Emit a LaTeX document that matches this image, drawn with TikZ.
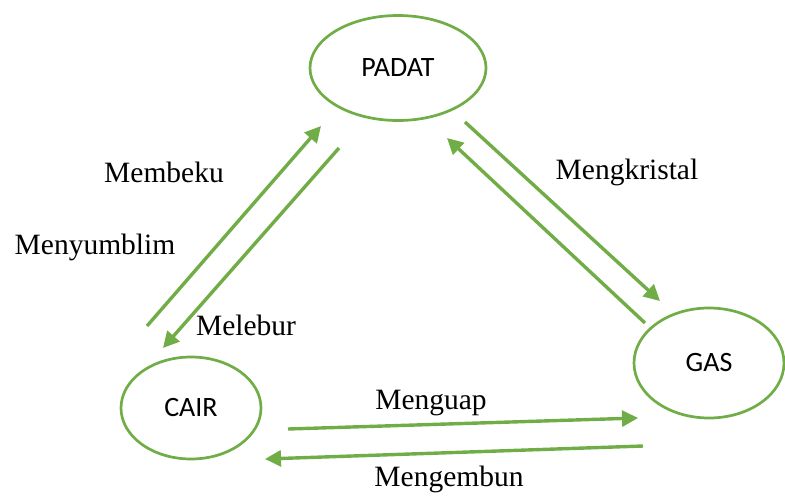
\documentclass[tikz,border=0pt]{standalone}
\usepackage{fontspec}
\setmainfont{Liberation Serif}
\newfontfamily\statefont{Carlito}
\usetikzlibrary{shapes.geometric,arrows.meta}
\definecolor{leaf}{HTML}{70AD47}
\tikzset{
  state/.style={ellipse, draw=leaf, line width=2.7pt, inner sep=0pt, font=\statefont\fontsize{28}{32}\selectfont},
  flow/.style={draw=leaf, line width=3.4pt, -{Triangle[length=16pt,width=16pt]}},
  lbl/.style={font=\fontsize{29.5}{34}\selectfont, inner sep=0pt}
}
\begin{document}
\begin{tikzpicture}[x=1pt,y=-1pt]
\useasboundingbox (0,0) rectangle (785,496);
\node[state, minimum width=176pt, minimum height=105pt] (padat) at (398,68) {PADAT};
\node[state, minimum width=140pt, minimum height=102pt] (cair) at (191,408) {CAIR};
\node[state, minimum width=150pt, minimum height=110pt] (gas) at (709,363) {GAS};
% endpoints
\coordinate (bk1) at (147,326); \coordinate (bk2) at (321,126);
\coordinate (lb1) at (339,148); \coordinate (lb2) at (163,348);
\coordinate (kr1) at (465,122); \coordinate (kr2) at (660,301);
\coordinate (sb1) at (645,323); \coordinate (sb2) at (447,138);
\coordinate (gu1) at (288,429); \coordinate (gu2) at (638,418);
\coordinate (em1) at (643,446); \coordinate (em2) at (265,459);
\draw[flow] (bk1) -- (bk2);
\draw[flow] (lb1) -- (lb2);
\draw[flow] (kr1) -- (kr2);
\draw[flow] (sb1) -- (sb2);
\draw[flow] (gu1) -- (gu2);
\draw[flow] (em1) -- (em2);
\node[lbl] (t1) at (164,172) {Membeku};
\node[lbl] (t2) at (95,247) {Menyumblim};
\node[lbl] (t3) at (246,325) {Melebur};
\node[lbl] (t4) at (627,172) {Mengkristal};
\node[lbl] (t5) at (431,403) {Menguap};
\node[lbl] (t6) at (449,479) {Mengembun};
\end{tikzpicture}
\end{document}
